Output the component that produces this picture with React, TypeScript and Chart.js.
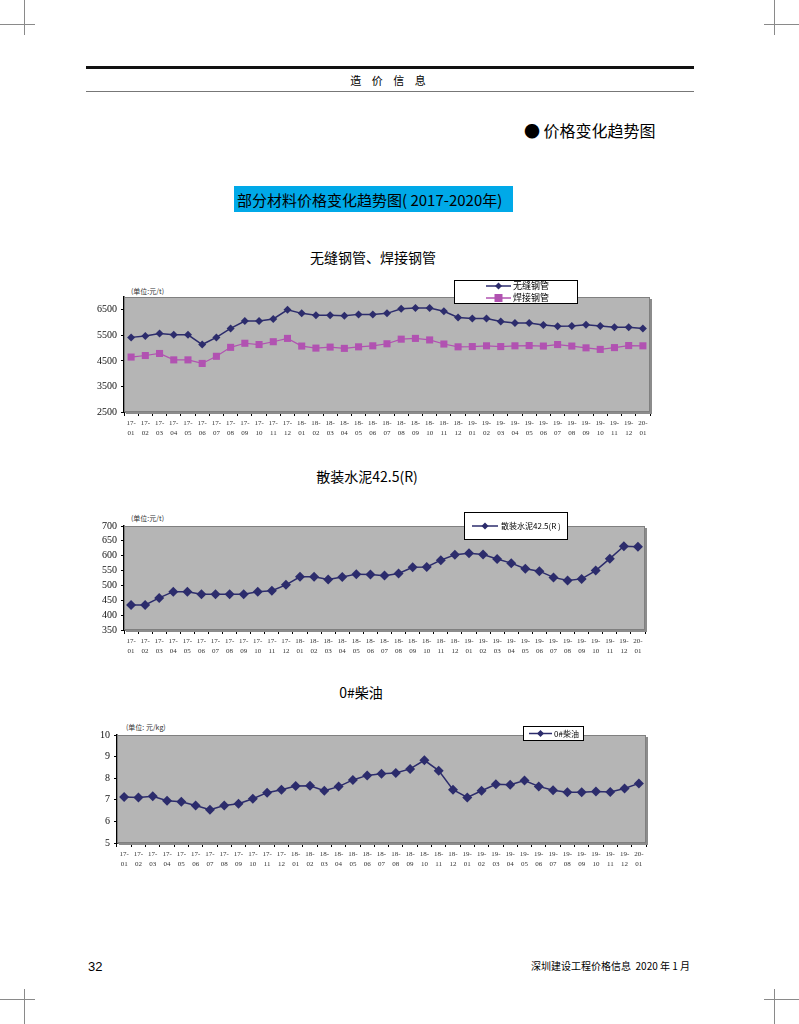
import React, { useEffect, useRef } from "react";
import { Chart, registerables } from "chart.js";

Chart.register(...registerables);

// ---------- data ----------
const months: string[] = [
  "17-01", "17-02", "17-03", "17-04", "17-05", "17-06", "17-07", "17-08", "17-09", "17-10", "17-11", "17-12",
  "18-01", "18-02", "18-03", "18-04", "18-05", "18-06", "18-07", "18-08", "18-09", "18-10", "18-11", "18-12",
  "19-01", "19-02", "19-03", "19-04", "19-05", "19-06", "19-07", "19-08", "19-09", "19-10", "19-11", "19-12",
  "20-01",
];

const seamlessPipe: number[] = [
  5420, 5470, 5570, 5520, 5520, 5140, 5420, 5770, 6060, 6060, 6140, 6500,
  6360, 6290, 6290, 6270, 6320, 6320, 6360, 6540, 6570, 6570, 6440, 6200,
  6160, 6160, 6040, 5980, 5980, 5900, 5860, 5870, 5910, 5870, 5820, 5820,
  5770,
];

const weldedPipe: number[] = [
  4650, 4710, 4790, 4540, 4540, 4400, 4680, 5030, 5190, 5140, 5250, 5380,
  5080, 5000, 5040, 4990, 5050, 5090, 5170, 5350, 5380, 5320, 5160, 5050,
  5060, 5090, 5060, 5090, 5100, 5080, 5140, 5080, 5010, 4950, 5020, 5100,
  5090,
];

const cement: number[] = [
  434, 434, 458, 479, 479, 470, 470, 470, 470, 479, 482, 502,
  529, 529, 520, 528, 538, 537, 533, 540, 561, 562, 585, 603,
  608, 604, 589, 575, 556, 548, 527, 517, 522, 550, 590, 632,
  630,
];

const diesel: number[] = [
  7.13, 7.11, 7.16, 6.96, 6.91, 6.74, 6.54, 6.74, 6.82, 7.05, 7.33, 7.47,
  7.64, 7.65, 7.42, 7.61, 7.92, 8.13, 8.21, 8.24, 8.43, 8.83, 8.35, 7.47,
  7.11, 7.42, 7.72, 7.70, 7.89, 7.62, 7.44, 7.35, 7.35, 7.38, 7.36, 7.52,
  7.76,
];

const pipeTicks: number[] = [2500, 3500, 4500, 5500, 6500];
const cementTicks: number[] = [350, 400, 450, 500, 550, 600, 650, 700];
const dieselTicks: number[] = [5, 6, 7, 8, 9, 10];

const NAVY = "#2c2c6c";
const MAGENTA = "#b152b1";
const PLOT_BG = "#b5b5b5";
const CJK = '"Noto Sans CJK SC", "Noto Sans", sans-serif';
const SERIF = '"Liberation Serif", "DejaVu Serif", serif';

type Series = {
  label: string;
  data: number[];
  color: string;
  pointStyle: "rectRot" | "rect";
  radius: number;
  lineWidth: number;
};

type LegendCfg = {
  x: number; // page coords
  y: number;
  w: number;
  h: number;
  lineX1: number;
  lineX2: number;
  textX: number;
  rowsY: number[];
  fontSize: number;
};

type ChartProps = {
  left: number;
  top: number;
  width: number;
  height: number;
  plotLeft: number;
  plotTop: number;
  plotRight: number;
  plotBottom: number;
  yMin: number;
  yMax: number;
  yTicks: number[];
  series: Series[];
  legend: LegendCfg;
};

function LineChart(props: ChartProps) {
  const ref = useRef<HTMLCanvasElement | null>(null);

  useEffect(() => {
    const canvas = ref.current;
    if (!canvas) return;
    const {
      left, top, width, height, plotLeft, plotTop, plotRight, plotBottom,
      yMin, yMax, yTicks, series, legend,
    } = props;

    const yAxisWidth = plotLeft - left;
    const xAxisHeight = top + height - plotBottom;
    const padTop = plotTop - top;
    const padRight = left + width - plotRight;

    const bgPlugin = {
      id: "plotBg",
      beforeDatasetsDraw(chart: any) {
        const { ctx, chartArea } = chart;
        const { left: l, top: t, right: r, bottom: b } = chartArea;
        ctx.save();
        ctx.fillStyle = "#8c8c8c";
        ctx.fillRect(l + 2, t + 2, r - l, b - t);
        ctx.fillStyle = PLOT_BG;
        ctx.fillRect(l, t, r - l, b - t);
        ctx.strokeStyle = "#808080";
        ctx.lineWidth = 1;
        ctx.strokeRect(l + 0.5, t + 0.5, r - l - 1, b - t - 1);
        ctx.restore();
      },
    };

    const legendPlugin = {
      id: "boxLegend",
      afterDraw(chart: any) {
        const { ctx } = chart;
        const ox = left;
        const oy = top;
        ctx.save();
        ctx.fillStyle = "#ffffff";
        ctx.fillRect(legend.x - ox, legend.y - oy, legend.w, legend.h);
        ctx.strokeStyle = "#000000";
        ctx.lineWidth = 1;
        ctx.strokeRect(legend.x - ox + 0.5, legend.y - oy + 0.5, legend.w - 1, legend.h - 1);
        series.forEach((s, i) => {
          const yy = legend.rowsY[i] - oy;
          ctx.strokeStyle = s.color;
          ctx.lineWidth = 1.5;
          ctx.beginPath();
          ctx.moveTo(legend.lineX1 - ox, yy);
          ctx.lineTo(legend.lineX2 - ox, yy);
          ctx.stroke();
          ctx.fillStyle = s.color;
          const cx = (legend.lineX1 + legend.lineX2) / 2 - ox;
          const r = s.pointStyle === "rect" ? 4 : 3.5;
          ctx.beginPath();
          if (s.pointStyle === "rect") {
            ctx.rect(cx - r, yy - r, 2 * r, 2 * r);
          } else {
            ctx.moveTo(cx - r, yy);
            ctx.lineTo(cx, yy - r);
            ctx.lineTo(cx + r, yy);
            ctx.lineTo(cx, yy + r);
            ctx.closePath();
          }
          ctx.fill();
          ctx.fillStyle = "#000000";
          ctx.font = `${legend.fontSize}px ${CJK}`;
          ctx.textBaseline = "middle";
          ctx.textAlign = "left";
          ctx.fillText(s.label, legend.textX - ox, yy);
        });
        ctx.restore();
      },
    };

    const chart = new Chart(canvas, {
      type: "line",
      data: {
        labels: months,
        datasets: series.map((s) => ({
          label: s.label,
          data: s.data,
          borderColor: s.color,
          backgroundColor: s.color,
          borderWidth: s.lineWidth,
          pointStyle: s.pointStyle,
          pointRadius: s.radius,
          pointBorderWidth: 0,
          pointBackgroundColor: s.color,
          fill: false,
          tension: 0,
        })),
      },
      options: {
        animation: false,
        responsive: false,
        maintainAspectRatio: false,
        devicePixelRatio: 1,
        layout: { padding: { top: padTop, right: padRight, left: 0, bottom: 0 } },
        plugins: {
          legend: { display: false },
          tooltip: { enabled: false },
        },
        scales: {
          x: {
            type: "category",
            offset: true,
            grid: {
              offset: true,
              drawOnChartArea: false,
              drawTicks: true,
              tickLength: 4,
              color: "#000000",
              lineWidth: 1,
            },
            border: { color: "#000000", width: 1.5 },
            ticks: {
              autoSkip: false,
              maxRotation: 0,
              minRotation: 0,
              padding: 2,
              color: "#333333",
              font: { family: SERIF, size: 7, lineHeight: 1.4 },
              callback: (_v: any, i: number) => [months[i].slice(0, 3), months[i].slice(3)],
            },
            afterFit: (s: any) => {
              s.height = xAxisHeight;
            },
          },
          y: {
            min: yMin,
            max: yMax,
            afterBuildTicks: (s: any) => {
              s.ticks = yTicks.map((v) => ({ value: v }));
            },
            grid: {
              drawOnChartArea: false,
              drawTicks: true,
              tickLength: 3,
              color: "#000000",
            },
            border: { color: "#000000", width: 1.5 },
            ticks: {
              autoSkip: false,
              padding: 4,
              color: "#111111",
              font: { family: SERIF, size: 10 },
              callback: (v: any) => String(v),
            },
            afterFit: (s: any) => {
              s.width = yAxisWidth;
            },
          },
        },
      } as any,
      plugins: [bgPlugin, legendPlugin],
    });

    return () => {
      chart.destroy();
    };
  }, []);

  return (
    <canvas
      ref={ref}
      width={props.width}
      height={props.height}
      style={{
        position: "absolute",
        left: props.left,
        top: props.top,
        width: props.width,
        height: props.height,
      }}
    />
  );
}

function Txt(p: {
  x: number;
  y: number;
  size: number;
  text: string;
  align?: "left" | "center" | "right";
  family?: string;
  color?: string;
  spacing?: number;
}) {
  const align = p.align || "left";
  const tx = align === "center" ? "translateX(-50%)" : align === "right" ? "translateX(-100%)" : "none";
  return (
    <div
      style={{
        position: "absolute",
        left: p.x,
        top: p.y - p.size / 2 - 1,
        fontSize: p.size,
        lineHeight: `${p.size + 2}px`,
        fontFamily: p.family || CJK,
        color: p.color || "#000",
        whiteSpace: "pre",
        transform: tx,
        letterSpacing: p.spacing || 0,
      }}
    >
      {p.text}
    </div>
  );
}

function Line(p: { x: number; y: number; w: number; h: number; color: string }) {
  return (
    <div
      style={{
        position: "absolute",
        left: p.x,
        top: p.y,
        width: p.w,
        height: p.h,
        background: p.color,
      }}
    />
  );
}

export default function App() {
  const mark = "#8a8a8a";
  return (
    <div
      style={{
        position: "absolute",
        left: 0,
        top: 0,
        width: 799,
        height: 1024,
        background: "#ffffff",
        overflow: "hidden",
      }}
    >
      {/* crop marks */}
      <Line x={24} y={0} w={1} h={35} color={mark} />
      <Line x={0} y={24} w={35} h={1} color={mark} />
      <Line x={774} y={0} w={1} h={35} color={mark} />
      <Line x={764} y={24} w={35} h={1} color={mark} />
      <Line x={24} y={989} w={1} h={35} color={mark} />
      <Line x={0} y={999} w={35} h={1} color={mark} />
      <Line x={774} y={989} w={1} h={35} color={mark} />
      <Line x={764} y={999} w={35} h={1} color={mark} />

      {/* header */}
      <Line x={86} y={66} w={608} h={3} color="#111" />
      <Txt x={390} y={80} size={11} text="造 价 信 息" align="center" spacing={4} />
      <Line x={86} y={91} w={608} h={1} color="#777" />

      <Txt x={524} y={130} size={16} text="● 价格变化趋势图" />

      {/* blue title box */}
      <div
        style={{
          position: "absolute",
          left: 234,
          top: 186,
          width: 279,
          height: 26,
          background: "#00a9e8",
        }}
      />
      <Txt x={237} y={199} size={15} text="部分材料价格变化趋势图( 2017-2020年)" />

      {/* chart 1 */}
      <Txt x={373} y={257} size={14} text="无缝钢管、焊接钢管" align="center" />
      <Txt x={131} y={291} size={7} text="(单位:元/t)" color="#333" />
      <LineChart
        left={88}
        top={276}
        width={572}
        height={164}
        plotLeft={124}
        plotTop={297}
        plotRight={650}
        plotBottom={412}
        yMin={2500}
        yMax={7000}
        yTicks={pipeTicks}
        series={[
          { label: "无缝钢管", data: seamlessPipe, color: NAVY, pointStyle: "rectRot", radius: 4, lineWidth: 1.5 },
          { label: "焊接钢管", data: weldedPipe, color: MAGENTA, pointStyle: "rect", radius: 5, lineWidth: 1.2 },
        ]}
        legend={{ x: 454, y: 280, w: 124, h: 24, lineX1: 486, lineX2: 511, textX: 513, rowsY: [286, 298], fontSize: 9 }}
      />

      {/* chart 2 */}
      <Txt x={367} y={476} size={14} text="散装水泥42.5(R)" align="center" />
      <Txt x={131} y={518} size={7} text="(单位:元/t)" color="#333" />
      <LineChart
        left={88}
        top={505}
        width={572}
        height={157}
        plotLeft={124}
        plotTop={526}
        plotRight={645}
        plotBottom={630}
        yMin={350}
        yMax={700}
        yTicks={cementTicks}
        series={[
          { label: "散装水泥42.5(R )", data: cement, color: NAVY, pointStyle: "rectRot", radius: 5, lineWidth: 1.5 },
        ]}
        legend={{ x: 464, y: 512, w: 104, h: 28, lineX1: 472, lineX2: 498, textX: 501, rowsY: [526], fontSize: 8 }}
      />

      {/* chart 3 */}
      <Txt x={361} y={692} size={14} text="0#柴油" align="center" />
      <Txt x={126} y={727} size={7} text="(单位: 元/kg)" color="#333" />
      <LineChart
        left={85}
        top={715}
        width={575}
        height={160}
        plotLeft={117}
        plotTop={735}
        plotRight={646}
        plotBottom={843}
        yMin={5}
        yMax={10}
        yTicks={dieselTicks}
        series={[
          { label: "0#柴油", data: diesel, color: NAVY, pointStyle: "rectRot", radius: 5, lineWidth: 1.5 },
        ]}
        legend={{ x: 523, y: 726, w: 61, h: 15, lineX1: 529, lineX2: 552, textX: 554, rowsY: [733.5], fontSize: 8 }}
      />

      {/* footer */}
      <Txt x={88} y={966} size={13} text="32" family='"Liberation Sans", Arimo, sans-serif' />
      <Txt x={690} y={966} size={10} text="深圳建设工程价格信息  2020 年 1 月" align="right" />
    </div>
  );
}
